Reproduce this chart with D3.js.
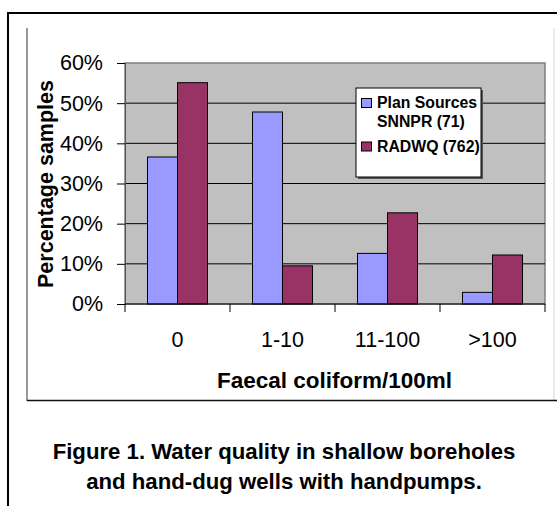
<!DOCTYPE html>
<html>
<head>
<meta charset="utf-8">
<script src="https://cdn.jsdelivr.net/npm/d3@7"></script>
<style>
  body { margin: 0; background: #fff; }
  svg { display: block; font-family: Arial, "Liberation Sans", sans-serif; }
</style>
</head>
<body>
<svg width="557" height="506"></svg>
<script>
const categories = ["0", "1-10", "11-100", ">100"];
const seriesNames = ["Plan Sources SNNPR (71)", "RADWQ (762)"];
const planSources = [36.6, 47.8, 12.6, 2.9];
const radwq = [55.1, 9.5, 22.7, 12.2];
const yTicks = [0, 10, 20, 30, 40, 50, 60];
const colors = ["#9999FF", "#993366"];

const svg = d3.select("svg");

// outer frame (top and left only)
svg.append("path")
    .attr("d", "M8,506V13H557")
    .attr("fill", "none")
    .attr("stroke", "#000")
    .attr("stroke-width", 2);

// chart area border
svg.append("line").attr("x1", 27).attr("x2", 27).attr("y1", 28).attr("y2", 401)
    .attr("stroke", "#333").attr("stroke-width", 1);
svg.append("line").attr("x1", 554).attr("x2", 554).attr("y1", 28).attr("y2", 401)
    .attr("stroke", "#d8d8d8").attr("stroke-width", 1);
svg.append("line").attr("x1", 27).attr("x2", 557).attr("y1", 400.5).attr("y2", 400.5)
    .attr("stroke", "#111").attr("stroke-width", 1.5);

const plot = {left: 125, right: 545, top: 63, bottom: 304};

const x0 = d3.scaleBand().domain(categories).range([plot.left, plot.right]).paddingInner(0).paddingOuter(0);
const x1 = d3.scaleBand().domain([0, 1]).range([0, x0.bandwidth()]).paddingOuter(0.75).paddingInner(0);
const y = d3.scaleLinear().domain([0, 60]).range([plot.bottom, plot.top]);

// plot background
svg.append("rect")
    .attr("x", plot.left).attr("y", plot.top)
    .attr("width", plot.right - plot.left).attr("height", plot.bottom - plot.top)
    .attr("fill", "#C0C0C0")
    .attr("stroke", "#808080").attr("stroke-width", 1.5);

// gridlines
svg.append("g")
    .selectAll("line")
    .data(yTicks.filter(d => d > 0 && d < 60))
    .enter().append("line")
    .attr("x1", plot.left).attr("x2", plot.right)
    .attr("y1", d => y(d)).attr("y2", d => y(d))
    .attr("stroke", "#000").attr("stroke-width", 1);

// bars
const groups = svg.append("g")
    .selectAll("g")
    .data(categories.map((c, i) => ({cat: c, vals: [planSources[i], radwq[i]]})))
    .enter().append("g")
    .attr("transform", d => `translate(${x0(d.cat)},0)`);

groups.selectAll("rect")
    .data(d => d.vals.map((v, k) => ({k: k, v: v})))
    .enter().append("rect")
    .attr("x", d => x1(d.k))
    .attr("width", x1.bandwidth())
    .attr("y", d => y(d.v))
    .attr("height", d => y(0) - y(d.v))
    .attr("fill", d => colors[d.k])
    .attr("stroke", "#000")
    .attr("stroke-width", 1);

// y axis
const yAxis = svg.append("g")
    .attr("transform", `translate(${plot.left},0)`)
    .call(d3.axisLeft(y).tickValues(yTicks).tickFormat(d => d + "%").tickSize(8).tickPadding(14));
yAxis.select(".domain").attr("stroke", "#555");
yAxis.selectAll(".tick line").attr("stroke", "#000");
yAxis.selectAll("text")
    .attr("font-size", "21.5px")
    .attr("font-family", "Arial, 'Liberation Sans', sans-serif")
    .attr("fill", "#000");

// x axis
const boundaries = categories.map(c => x0(c)).concat([plot.right]);
const xAxis = svg.append("g")
    .attr("transform", `translate(0,${plot.bottom})`);
xAxis.append("line")
    .attr("x1", plot.left).attr("x2", plot.right)
    .attr("stroke", "#000").attr("stroke-width", 1);
xAxis.selectAll(".bt")
    .data(boundaries)
    .enter().append("line")
    .attr("class", "bt")
    .attr("x1", d => d).attr("x2", d => d)
    .attr("y1", 0).attr("y2", 8)
    .attr("stroke", "#000");
xAxis.selectAll("text")
    .data(categories)
    .enter().append("text")
    .attr("x", d => x0(d) + x0.bandwidth() / 2)
    .attr("y", 43)
    .attr("text-anchor", "middle")
    .attr("font-size", "21.5px")
    .text(d => d);

// axis titles
svg.append("text")
    .attr("x", (plot.left + plot.right) / 2 - 0.5)
    .attr("y", 388)
    .attr("text-anchor", "middle")
    .attr("font-weight", "bold")
    .attr("font-size", "22.5px")
    .text("Faecal coliform/100ml");

svg.append("text")
    .attr("transform", "translate(53,184) rotate(-90)")
    .attr("text-anchor", "middle")
    .attr("font-weight", "bold")
    .attr("font-size", "21.5px")
    .text("Percentage samples");

// legend
const legend = svg.append("g").attr("transform", "translate(356,88)");
legend.append("rect")
    .attr("x", 2).attr("y", 2).attr("width", 125).attr("height", 89)
    .attr("fill", "#555");
legend.append("rect")
    .attr("width", 125).attr("height", 89)
    .attr("fill", "#fff").attr("stroke", "#000").attr("stroke-width", 1);
const legendLines = [["Plan Sources", "SNNPR (71)"], ["RADWQ (762)"]];
const legendY = [20, 63.5];
legendLines.forEach((lines, i) => {
    legend.append("rect")
        .attr("x", 5.5).attr("y", legendY[i] - 9.5)
        .attr("width", 10).attr("height", 9)
        .attr("fill", colors[i]).attr("stroke", "#000").attr("stroke-width", 1);
    lines.forEach((t, j) => {
        legend.append("text")
            .attr("x", 21).attr("y", legendY[i] + j * 18.5)
            .attr("font-weight", "bold")
            .attr("font-size", "15.8px")
            .text(t);
    });
});

// caption
const caption = ["Figure 1. Water quality in shallow boreholes", "and hand-dug wells with handpumps."];
svg.append("g").selectAll("text")
    .data(caption)
    .enter().append("text")
    .attr("x", 284)
    .attr("y", (d, i) => 459 + i * 30)
    .attr("text-anchor", "middle")
    .attr("font-weight", "bold")
    .attr("font-size", "22.2px")
    .text(d => d);
</script>
</body>
</html>
